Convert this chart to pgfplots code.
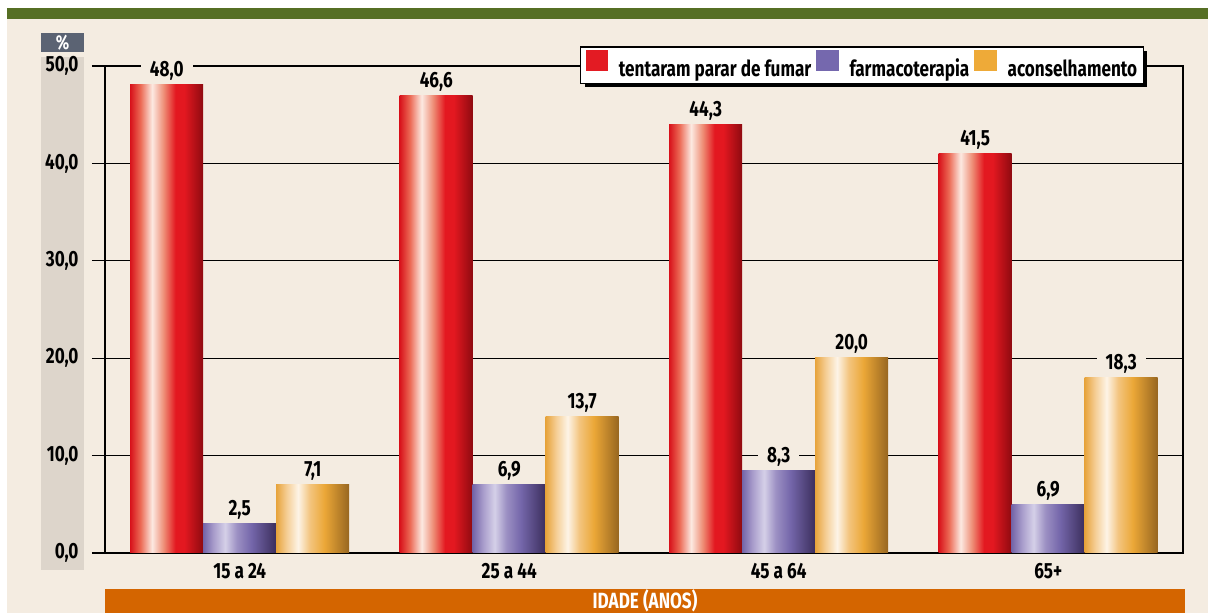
\documentclass[border=0pt]{standalone}
\usepackage{pgfplots}
\pgfplotsset{compat=1.18}
\usepackage{pgfplotstable}
\usetikzlibrary{shadows}
\usepackage{fontspec}
\setmainfont{Fira Sans}[FakeStretch=0.78]
\makeatletter
\tikzset{nopre/.code={\let\tikz@preactions\pgfutil@empty}}
\makeatother
\definecolor{cream}{HTML}{F4ECE1}
\definecolor{topgreen}{HTML}{566F24}
\definecolor{band}{HTML}{DDD5CB}
\definecolor{pctbox}{HTML}{5B6373}
\definecolor{axorange}{HTML}{D46500}
\definecolor{legred}{HTML}{E31B23}
\definecolor{legpur}{HTML}{7568AE}
\definecolor{legora}{HTML}{EEAA38}
\definecolor{r0}{HTML}{D8121B}
\definecolor{r1}{HTML}{EC6A55}
\definecolor{r2}{HTML}{FCE9E1}
\definecolor{r3}{HTML}{EE8C74}
\definecolor{r4}{HTML}{E31820}
\definecolor{r5}{HTML}{8E0A10}
\definecolor{p0}{HTML}{7465A8}
\definecolor{p1}{HTML}{A89CCB}
\definecolor{p2}{HTML}{D5D0E8}
\definecolor{p3}{HTML}{9C90C3}
\definecolor{p4}{HTML}{7466AA}
\definecolor{p5}{HTML}{3B2E5C}
\definecolor{o0}{HTML}{E7A43C}
\definecolor{o1}{HTML}{F5CD93}
\definecolor{o2}{HTML}{FDF4E7}
\definecolor{o3}{HTML}{F3C47E}
\definecolor{o4}{HTML}{EBA737}
\definecolor{o5}{HTML}{976620}
\pgfdeclarehorizontalshading{redcyl}{100bp}{color(0bp)=(r0); color(25bp)=(r0); color(32bp)=(r1); color(40bp)=(r2); color(48bp)=(r3); color(56bp)=(r4); color(62bp)=(r4); color(75bp)=(r5); color(100bp)=(r5)}
\pgfdeclarehorizontalshading{purcyl}{100bp}{color(0bp)=(p0); color(25bp)=(p0); color(32bp)=(p1); color(40bp)=(p2); color(48bp)=(p3); color(58bp)=(p4); color(75bp)=(p5); color(100bp)=(p5)}
\pgfdeclarehorizontalshading{oracyl}{100bp}{color(0bp)=(o0); color(25bp)=(o0); color(32bp)=(o1); color(40bp)=(o2); color(48bp)=(o3); color(58bp)=(o4); color(75bp)=(o5); color(100bp)=(o5)}

\pgfplotstableread{
x y lab
0 48.05 48,0
1 47.0 46,6
2 44.0 44,3
3 41.0 41,5
}\redtab
\pgfplotstableread{
x y lab
0 3.0 2,5
1 7.0 6,9
2 8.5 8,3
3 5.0 6,9
}\purtab
\pgfplotstableread{
x y lab
0 7.0 7,1
1 14.0 13,7
2 20.1 20,0
3 18.0 18,3
}\oratab

\newcommand\bigfont{\bfseries\fontsize{22}{22}\selectfont}

\begin{document}
\begin{tikzpicture}[x=1pt,y=1pt]
\fill[white] (0,0) rectangle (1208,613);
\fill[cream] (7,0) rectangle (1208,605);
\fill[topgreen] (7,594) rectangle (1208,605);
\fill[band] (41,43) rectangle (84,556);
\fill[pctbox] (41,561) rectangle (84,580);
\node[text=white,font=\bfseries\fontsize{20}{20}\selectfont] at (62.5,570.5) {\%};
\fill[axorange] (105,0) rectangle (1185,24);
\node[text=white,font=\bigfont, anchor=base, inner sep=0pt] at (645,4.5) {IDADE (ANOS)};
\begin{axis}[
  at={(105pt,60pt)}, anchor=south west,
  width=1078pt, height=487pt, scale only axis,
  xmin=-0.5, xmax=3.5, ymin=0, ymax=50,
  ybar=0pt, bar width=73pt,
  axis line style={line width=1.3pt},
  ytick={0,10,...,50}, ytick pos=left,
  tick align=outside, major tick length=13pt,
  tick style={line width=1.3pt, black},
  ymajorgrids, grid style={line width=1.3pt, black},
  xtick={0,1,2,3}, xticklabels={15 a 24,25 a 44,45 a 64,65+},
  xtick pos=bottom,
  x tick style={draw=none},
  extra x ticks={-0.5,0.5,1.5,2.5,3.5},
  extra x tick labels={},
  extra x tick style={major tick length=14pt, tick style={draw=black,line width=1.3pt}, grid=none},
  xticklabel style={font=\bigfont, yshift=6pt},
  yticklabel style={font=\bigfont, xshift=-10pt},
  /pgf/number format/.cd, fixed, fixed zerofill, precision=1, use comma, assume math mode=true,
  /pgfplots/.cd,
  point meta=explicit symbolic,
  nodes near coords,
  nodes near coords style={font=\bigfont, fill=cream, inner xsep=9pt, inner ysep=2pt, anchor=south, yshift=2pt},
  legend style={at={(0.7022,1.002)}, anchor=center, fill=white, draw=black, line width=1.3pt,
    drop shadow={shadow xshift=4pt, shadow yshift=-4pt, fill=black, opacity=1},
    font=\bigfont, legend columns=3,
    /tikz/every even column/.append style={column sep=4pt},
    /tikz/every odd column/.append style={column sep=10pt},
    nodes={inner xsep=1pt},
    inner xsep=5pt, inner ysep=3pt},
  legend cell align=left,
]
\pgfplotsinvokeforeach{0,1,2,3}{
\addplot[draw=none, shading=redcyl, bar shift=-73pt, forget plot,
  x filter/.expression={abs(x-#1)<0.1 ? x : nan}]
  table[x=x,y=y,meta=lab] {\redtab};
\addplot[draw=none, shading=purcyl, bar shift=0pt, forget plot,
  x filter/.expression={abs(x-#1)<0.1 ? x : nan}]
  table[x=x,y=y,meta=lab] {\purtab};
\addplot[draw=none, shading=oracyl, bar shift=73pt, forget plot,
  x filter/.expression={abs(x-#1)<0.1 ? x : nan}]
  table[x=x,y=y,meta=lab] {\oratab};
}
\addlegendimage{legend image code/.code={\fill[nopre, legred] (0pt,-2pt) rectangle (21pt,18pt);}}
\addlegendentry{tentaram parar de fumar}
\addlegendimage{legend image code/.code={\fill[nopre, legpur] (0pt,-2pt) rectangle (21pt,18pt);}}
\addlegendentry{farmacoterapia}
\addlegendimage{legend image code/.code={\fill[nopre, legora] (0pt,-2pt) rectangle (21pt,18pt);}}
\addlegendentry{aconselhamento}
\end{axis}
\pgfresetboundingbox
\useasboundingbox (0,0) rectangle (1208,613);
\end{tikzpicture}
\end{document}
